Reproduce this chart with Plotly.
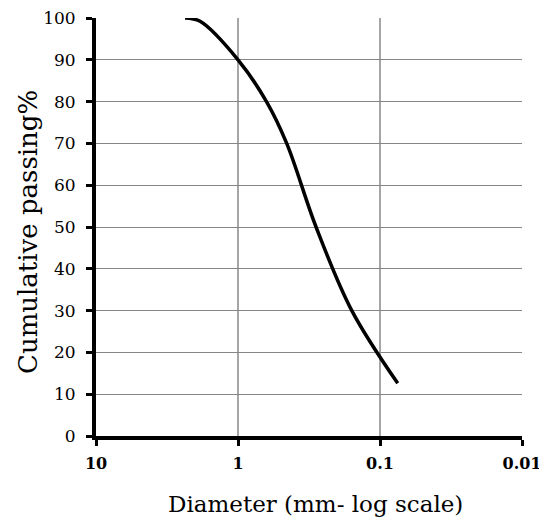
import plotly.graph_objects as go

# Particle size distribution: sizes in mm, % passing
diameter_mm = [2.36, 1.85, 1.0, 0.63, 0.454, 0.282, 0.158, 0.075]
passing_pct = [100, 99.2, 90, 80, 70, 50, 30, 12.6]

x_tickvals = [10, 1, 0.1, 0.01]
x_ticktext = ["<b>10</b>", "<b>1</b>", "<b>0.1</b>", "<b>0.01</b>"]
y_tickvals = [0, 10, 20, 30, 40, 50, 60, 70, 80, 90, 100]

FONT = "DejaVu Serif"

fig = go.Figure()
fig.add_trace(go.Scatter(
    x=diameter_mm, y=passing_pct, mode="lines",
    line=dict(color="black", width=3.5, shape="spline", smoothing=1.0),
    showlegend=False, hoverinfo="skip",
))

fig.update_layout(
    width=539, height=514,
    margin=dict(l=88, r=25, t=10, b=86),
    paper_bgcolor="white", plot_bgcolor="white",
    font=dict(family=FONT, color="black", size=17),
    xaxis=dict(
        type="log", range=[1, -2], automargin=False,
        tickvals=x_tickvals, ticktext=x_ticktext,
        ticks="outside", ticklen=6, tickwidth=3, tickcolor="black",
        ticklabelstandoff=4, ticklabeloverflow="allow",
        showline=True, linecolor="black", linewidth=4,
        showgrid=True, gridcolor="#a6a6a6", gridwidth=1.5,
        zeroline=False,
        tickfont=dict(family=FONT, size=16, color="black"),
    ),
    yaxis=dict(
        range=[0, 100], automargin=False,
        tickvals=y_tickvals,
        ticks="outside", ticklen=6, tickwidth=3, tickcolor="black",
        ticklabelstandoff=7, ticklabeloverflow="allow",
        showline=True, linecolor="black", linewidth=4,
        showgrid=True, gridcolor="#868686", gridwidth=1,
        zeroline=False,
        tickfont=dict(family=FONT, size=17, color="black"),
    ),
    annotations=[
        dict(text="Cumulative passing%", textangle=-90,
             xref="paper", yref="paper", x=0, y=0.5,
             xanchor="center", yanchor="middle", xshift=-68, yshift=-5,
             showarrow=False, font=dict(family=FONT, size=26, color="black")),
        dict(text="Diameter (mm- log scale)",
             xref="paper", yref="paper", x=0.5, y=0,
             xanchor="center", yanchor="middle", xshift=6, yshift=-68,
             showarrow=False, font=dict(family=FONT, size=23, color="black")),
    ],
)

fig.write_html("out.html")
